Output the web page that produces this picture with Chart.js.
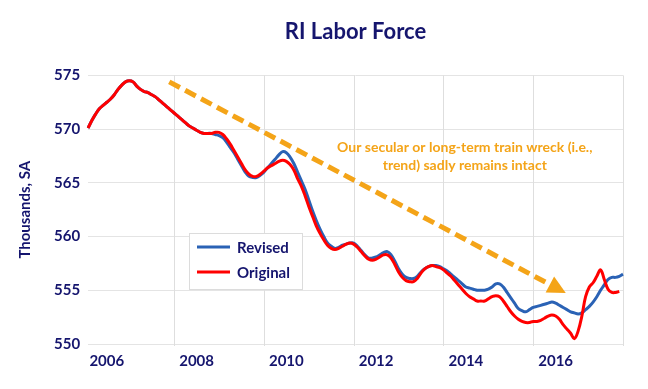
<!DOCTYPE html>
<html>
<head>
<meta charset="utf-8">
<script src="https://cdn.jsdelivr.net/npm/chart.js@4.4.1/dist/chart.umd.min.js"></script>
<style>
html,body{margin:0;padding:0;background:#fff;}
#wrap{width:648px;height:389px;position:relative;}
</style>
</head>
<body>
<div id="wrap"><canvas id="laborChart"></canvas></div>
<script>
// monthly, Jan 2006 .. Dec 2017
const years = [2006,2007,2008,2009,2010,2011,2012,2013,2014,2015,2016,2017];
const tickYears = ["2006","2008","2010","2012","2014","2016"];

const revised = [
570.1,570.8,571.4,571.9,572.2,572.5,572.8,573.2,573.7,574.1,574.4,574.5,
574.4,574.0,573.7,573.5,573.4,573.2,573.0,572.7,572.4,572.1,571.8,571.5,
571.2,570.9,570.6,570.3,570.1,569.9,569.7,569.6,569.6,569.6,569.5,569.4,
569.2,568.8,568.3,567.8,567.2,566.6,566.0,565.6,565.5,565.5,565.7,566.0,
566.4,566.8,567.2,567.6,567.9,567.8,567.4,566.8,566.0,565.2,564.4,563.4,
562.4,561.5,560.7,560.0,559.4,559.1,558.9,559.0,559.2,559.3,559.4,559.4,
559.1,558.7,558.3,558.0,558.0,558.1,558.3,558.5,558.6,558.3,557.7,557.0,
556.5,556.2,556.1,556.1,556.3,556.7,557.0,557.2,557.3,557.3,557.2,557.0,
556.8,556.5,556.2,555.9,555.6,555.3,555.2,555.1,555.0,555.0,555.0,555.1,
555.3,555.6,555.6,555.3,554.8,554.3,553.8,553.3,553.1,553.0,553.2,553.4,
553.5,553.6,553.7,553.8,553.9,553.8,553.6,553.4,553.2,553.0,552.9,552.8,
552.9,553.2,553.5,553.9,554.4,555.0,555.5,556.0,556.2,556.2,556.3,556.5
];

const original = [
570.1,570.8,571.4,571.9,572.2,572.5,572.8,573.2,573.7,574.1,574.4,574.5,
574.4,574.0,573.7,573.5,573.4,573.2,573.0,572.7,572.4,572.1,571.8,571.5,
571.2,570.9,570.6,570.3,570.1,569.9,569.7,569.6,569.6,569.6,569.7,569.7,
569.5,569.1,568.6,568.0,567.4,566.8,566.2,565.8,565.6,565.6,565.8,566.1,
566.4,566.6,566.8,567.0,567.1,567.0,566.7,566.2,565.4,564.7,563.8,562.8,
561.9,561.0,560.3,559.7,559.2,558.9,558.8,558.9,559.1,559.3,559.4,559.3,
559.0,558.6,558.2,557.9,557.8,557.9,558.1,558.3,558.3,558.0,557.4,556.7,
556.2,555.9,555.8,555.8,556.1,556.6,557.0,557.2,557.3,557.2,557.1,556.9,
556.6,556.3,555.9,555.5,555.1,554.7,554.4,554.2,554.0,554.0,554.0,554.2,
554.4,554.5,554.4,554.0,553.5,553.0,552.6,552.3,552.1,552.0,552.0,552.1,
552.1,552.2,552.4,552.6,552.7,552.6,552.3,551.8,551.4,551.0,550.5,551.2,
552.6,554.4,555.3,555.7,556.3,556.9,556.0,555.1,554.8,554.8,554.9,null
];

const months = [];
years.forEach(y => {
  for (let m = 1; m <= 12; m++) months.push(y + "-" + String(m).padStart(2, "0"));
});
// vertical gridlines fall at December of odd years
const gridMonths = ["2007-12","2009-12","2011-12","2013-12","2015-12","2017-12"];

const navy = "#15156e";
const orange = "#f4a418";
const font = "Lato";

// vertical grid, legend box, arrow and note are drawn by hand
const extras = {
  id: "extras",
  beforeDatasetsDraw(chart) {
    const ctx = chart.ctx, area = chart.chartArea, x = chart.scales.x;
    ctx.save();
    ctx.strokeStyle = "#dedede";
    ctx.lineWidth = 1;
    gridMonths.forEach(m => {
      const px = Math.round(x.getPixelForValue(months.indexOf(m))) + 0.5;
      ctx.beginPath();
      ctx.moveTo(px, area.top);
      ctx.lineTo(px, area.bottom + 2);
      ctx.stroke();
    });
    ctx.restore();
  },
  afterDatasetsDraw(chart) {
    const ctx = chart.ctx;
    const x = chart.scales.x, y = chart.scales.y;

    // trend arrow
    const x1 = x.getPixelForValue(21.7), y1 = y.getPixelForValue(574.4);
    const x2 = x.getPixelForValue(127.7), y2 = y.getPixelForValue(554.75);
    const ang = Math.atan2(y2 - y1, x2 - x1);
    const head = 18;
    ctx.save();
    ctx.strokeStyle = orange;
    ctx.lineWidth = 5;
    ctx.setLineDash([12, 6]);
    ctx.beginPath();
    ctx.moveTo(x1, y1);
    ctx.lineTo(x2 - head * Math.cos(ang), y2 - head * Math.sin(ang));
    ctx.stroke();
    ctx.setLineDash([]);
    ctx.fillStyle = orange;
    ctx.beginPath();
    ctx.moveTo(x2, y2);
    ctx.lineTo(x2 - head * Math.cos(ang) + 9 * Math.sin(ang), y2 - head * Math.sin(ang) - 9 * Math.cos(ang));
    ctx.lineTo(x2 - head * Math.cos(ang) - 9 * Math.sin(ang), y2 - head * Math.sin(ang) + 9 * Math.cos(ang));
    ctx.closePath();
    ctx.fill();

    // note
    ctx.font = "bold 14px " + font;
    ctx.textAlign = "center";
    ctx.textBaseline = "middle";
    const nx = x.getPixelForValue(100.7);
    ctx.fillText("Our secular or long-term train wreck (i.e.,", nx, y.getPixelForValue(568.25));
    ctx.fillText("trend) sadly remains intact", nx, y.getPixelForValue(566.57));

    // legend
    const lx = 189, ly = 233, lw = 113, lh = 56;
    ctx.fillStyle = "#fff";
    ctx.fillRect(lx, ly, lw, lh);
    ctx.strokeStyle = "#dcdcdc";
    ctx.lineWidth = 1;
    ctx.strokeRect(lx + 0.5, ly + 0.5, lw, lh);
    const items = [["Revised", "#2a62b5", 247], ["Original", "#ff0000", 272]];
    ctx.font = "bold 15px " + font;
    ctx.textAlign = "left";
    items.forEach(([txt, col, ty]) => {
      ctx.strokeStyle = col;
      ctx.lineWidth = 3;
      ctx.beginPath();
      ctx.moveTo(197, ty);
      ctx.lineTo(230, ty);
      ctx.stroke();
      ctx.fillStyle = navy;
      ctx.fillText(txt, 237, ty + 1);
    });
    ctx.restore();
  }
};

new Chart(document.getElementById("laborChart"), {
  type: "line",
  data: {
    labels: months,
    datasets: [{
      label: "Revised",
      data: revised,
      borderColor: "#2a62b5",
      borderWidth: 3,
      pointRadius: 0,
      tension: 0.4,
      order: 2
    }, {
      label: "Original",
      data: original,
      borderColor: "#ff0000",
      borderWidth: 3,
      pointRadius: 0,
      tension: 0.4,
      order: 1
    }]
  },
  options: {
    responsive: true,
    maintainAspectRatio: false,
    animation: false,
    layout: { padding: { left: 16, right: 25, top: 0, bottom: 19 } },
    plugins: {
      legend: { display: false },
      tooltip: { enabled: false },
      title: {
        display: true,
        text: "RI Labor Force",
        fullSize: false,
        color: navy,
        font: { family: font, size: 22, weight: "bold" },
        padding: { top: 19, bottom: 30 }
      }
    },
    scales: {
      x: {
        grid: { display: false },
        border: { display: false },
        ticks: {
          autoSkip: false,
          maxRotation: 0,
          padding: 0,
          color: navy,
          font: { family: font, size: 15, weight: "bold" },
          callback: function (v, i) {
            const m = months[i];
            const yr = m.slice(0, 4);
            return (m.endsWith("-06") && tickYears.includes(yr)) ? yr : "";
          }
        }
      },
      y: {
        min: 550,
        max: 575,
        grid: { drawTicks: false, color: "#e4e4e4" },
        border: { display: false },
        ticks: {
          stepSize: 5,
          padding: 8,
          color: navy,
          font: { family: font, size: 15, weight: "bold" }
        },
        title: {
          display: true,
          text: "Thousands, SA",
          color: navy,
          font: { family: font, size: 15, weight: "bold" },
          padding: { top: 0, bottom: 12 }
        }
      }
    }
  },
  plugins: [extras]
});
</script>
</body>
</html>
